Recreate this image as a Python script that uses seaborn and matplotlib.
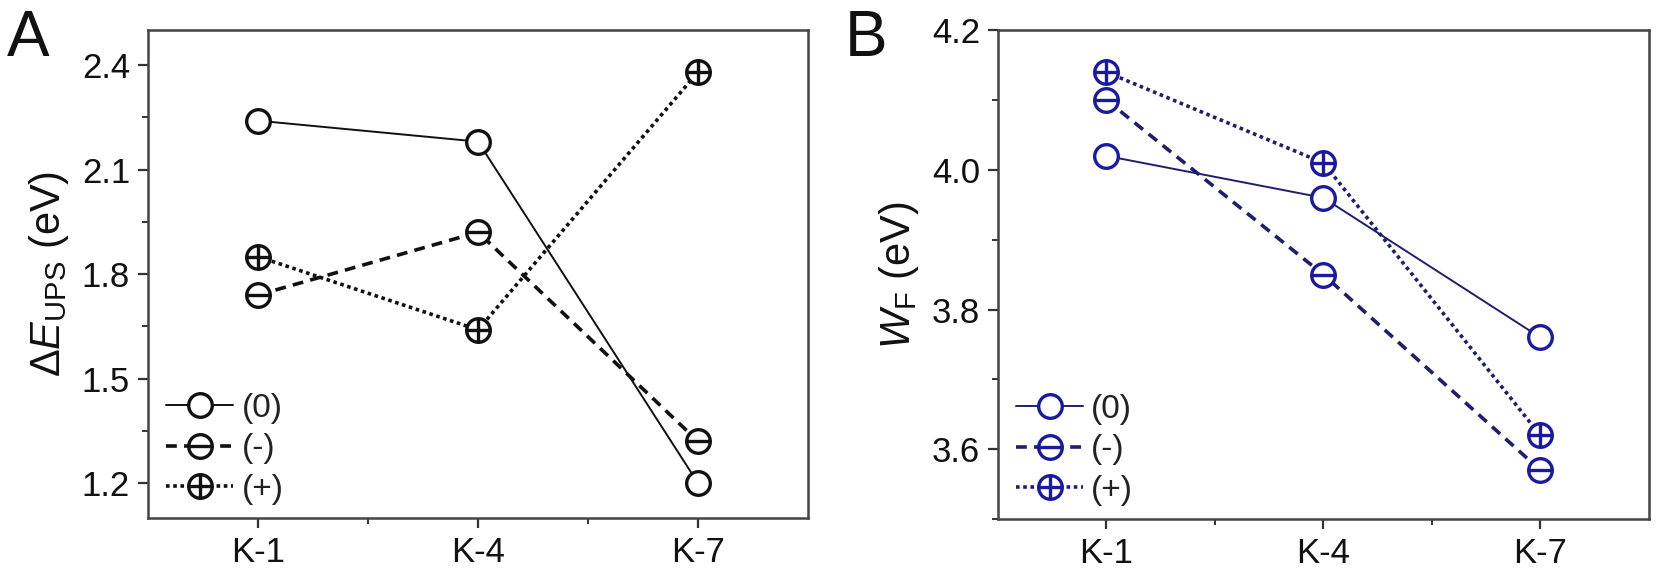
import matplotlib
matplotlib.use("Agg")
import matplotlib.pyplot as plt
from matplotlib.path import Path
import seaborn as sns
import pandas as pd

# data
samples = ["K-1", "K-4", "K-7"]
series_labels = ["(0)", "(-)", "(+)"]

dE_zero = [2.24, 2.18, 1.20]
dE_minus = [1.74, 1.92, 1.32]
dE_plus = [1.85, 1.64, 2.38]

wf_zero = [4.02, 3.96, 3.76]
wf_minus = [4.10, 3.85, 3.57]
wf_plus = [4.14, 4.01, 3.62]

dE_ticks = [1.2, 1.5, 1.8, 2.1, 2.4]
wf_ticks = [3.6, 3.8, 4.0, 4.2]

sns.set_theme(style="white")
plt.rcParams["font.family"] = ["Liberation Sans", "DejaVu Sans"]
plt.rcParams["mathtext.fontset"] = "custom"
plt.rcParams["mathtext.rm"] = "Liberation Sans"
plt.rcParams["mathtext.it"] = "Liberation Sans:italic"
plt.rcParams["text.color"] = "#111111"
plt.rcParams["axes.labelcolor"] = "#111111"
plt.rcParams["xtick.color"] = "#111111"
plt.rcParams["ytick.color"] = "#111111"


def circle_marker(kind):
    circ = Path.unit_circle()
    if kind == "minus":
        bar = Path([(-1, 0), (1, 0)], [Path.MOVETO, Path.LINETO])
        return Path.make_compound_path(circ, bar)
    if kind == "plus":
        bar = Path([(-1, 0), (1, 0), (0, -1), (0, 1)],
                   [Path.MOVETO, Path.LINETO, Path.MOVETO, Path.LINETO])
        return Path.make_compound_path(circ, bar)
    return circ


styles = [
    ("zero", "-", 1.4),
    ("minus", (0, (3.0, 2.0)), 2.6),
    ("plus", (0, (1.0, 1.0)), 2.6),
]


def draw_panel(ax, values, line_color, marker_color, yticks, ylim, ylabel):
    for (kind, ls, lw), vals, lab in zip(styles, values, series_labels):
        df = pd.DataFrame({"sample": samples, "value": vals})
        sns.lineplot(
            data=df, x="sample", y="value", ax=ax, sort=False,
            color=line_color, linestyle=ls, linewidth=lw,
            marker=circle_marker(kind), markersize=17,
            markerfacecolor="white", markeredgecolor=marker_color,
            markeredgewidth=2.4, label=lab,
        )
    ax.set_xlim(-0.5, 2.5)
    ax.set_ylim(*ylim)
    ax.set_yticks(yticks)
    ax.set_yticklabels([f"{t:.1f}" for t in yticks])
    ax.set_xticks(range(len(samples)))
    ax.set_xticklabels(samples)
    ax.set_xticks([0.5, 1.5], minor=True)
    step = yticks[1] - yticks[0]
    ax.set_yticks([t + step / 2 for t in [yticks[0] - step] + yticks if ylim[0] <= t + step / 2 <= ylim[1]],
                  minor=True)
    ax.set_xlabel("")
    ax.set_ylabel(ylabel, fontsize=30, labelpad=8)
    ax.tick_params(axis="both", which="major", direction="out", length=7, width=1.6,
                   labelsize=25, color="#333333", left=True, bottom=True, pad=6)
    ax.tick_params(axis="both", which="minor", direction="out", length=4, width=1.4,
                   color="#333333", left=True, bottom=True)
    for sp in ax.spines.values():
        sp.set_color("#444444")
        sp.set_linewidth(1.8)
    handles, labels = ax.get_legend_handles_labels()
    leg = ax.legend(handles, labels, loc="lower left", frameon=False, fontsize=24,
                    handlelength=2.0, handletextpad=0.25, labelspacing=0.28,
                    borderaxespad=0.15, bbox_to_anchor=(0.0, -0.01))
    for t in leg.get_texts():
        t.set_color("#222222")


fig = plt.figure(figsize=(16.73, 5.70), dpi=100)
ax_a = fig.add_axes([0.0885, 0.0912, 0.3945, 0.856])
ax_b = fig.add_axes([0.5965, 0.0895, 0.389, 0.8575])

draw_panel(ax_a, [dE_zero, dE_minus, dE_plus], "#111111", "#111111",
           dE_ticks, (1.1, 2.5), r"$\Delta\mathit{E}_{\rm UPS}$ (eV)")
draw_panel(ax_b, [wf_zero, wf_minus, wf_plus], "#1f1f6e", "#1a1aa0",
           wf_ticks, (3.5, 4.2), r"$\mathit{W}_{\rm F}$ (eV)")

fig.text(0.004, 0.985, "A", fontsize=46, va="top", ha="left")
fig.text(0.505, 0.985, "B", fontsize=46, va="top", ha="left")

fig.savefig("out.png", dpi=100)
